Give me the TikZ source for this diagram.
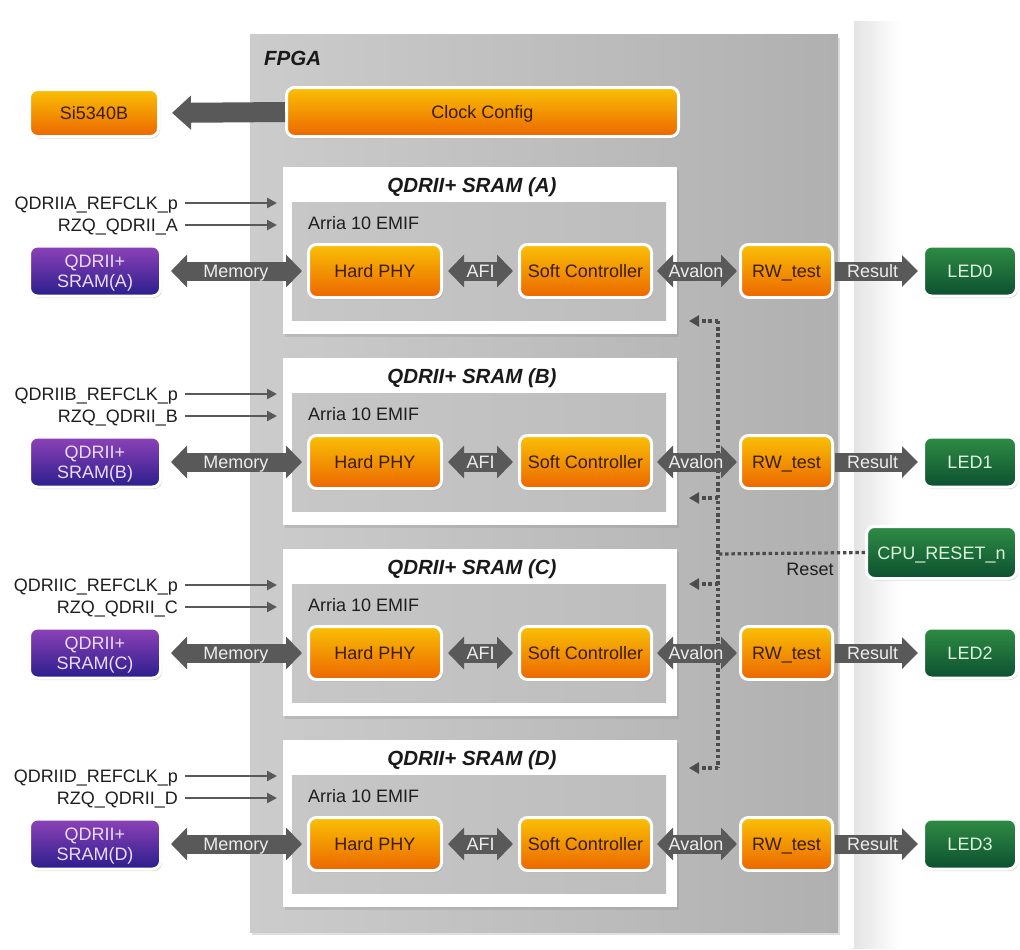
\documentclass[tikz,border=0pt]{standalone}
\usepackage{fontspec}
\setmainfont{Liberation Sans}
\usetikzlibrary{arrows.meta,shadows}
\definecolor{org1}{HTML}{F9C004}
\definecolor{org2}{HTML}{EC6600}
\definecolor{pur1}{HTML}{8E42B8}
\definecolor{pur2}{HTML}{2A1E8C}
\definecolor{grn1}{HTML}{2F8C44}
\definecolor{grn2}{HTML}{0C5030}
\definecolor{arrc}{HTML}{595959}
\definecolor{otext}{HTML}{3A1C08}
\definecolor{ptext}{HTML}{EADCF6}
\definecolor{gtext}{HTML}{DDF3DD}
\definecolor{atext}{HTML}{EDEDED}
\definecolor{ltext}{HTML}{1E1E1E}
\definecolor{dotc}{HTML}{4C4C4C}
\newcommand\fsa{\fontsize{18pt}{20pt}\selectfont}
\newcommand\fsb{\fontsize{20.5pt}{24pt}\selectfont\bfseries\itshape}
\begin{document}
\begin{tikzpicture}[x=1pt,y=-1pt,
  box/.style={rounded corners=8pt, draw=white, line width=3pt, inner sep=0pt, align=center, font=\fsa,
    drop shadow={opacity=0.3, shadow xshift=1.5pt, shadow yshift=-2pt}},
  one/.style={text height=13pt, text depth=0pt},
  obox/.style={box, one, top color=org1, bottom color=org2, text=otext},
  pbox/.style={box, text depth=0pt, top color=pur1, bottom color=pur2, text=ptext},
  gbox/.style={box, one, top color=grn1, bottom color=grn2, text=gtext},
  fatd/.style={draw=arrc, line width=19pt, {Triangle[length=16pt,width=32pt]}-{Triangle[length=16pt,width=32pt]}},
  fats/.style={draw=arrc, line width=19pt, -{Triangle[length=16pt,width=31pt]}},
  alab/.style={text=atext, font=\fsa, inner sep=0pt, one},
  lbl/.style={font=\fsa, text=ltext, inner sep=0pt, one},
  thinarr/.style={draw=arrc, line width=2.4pt, -{Triangle[length=10pt,width=10pt]}},
  dotl/.style={draw=dotc, line width=3.2pt, dash pattern=on 3.4pt off 2.8pt},
  dotarr/.style={dotl, -{Triangle[length=10pt,width=11pt]}},
  ttl/.style={font=\fsb, text=black!90, inner sep=0pt, text height=14.7pt, text depth=0pt}
]
\useasboundingbox (0,0) rectangle (1020,950);
% outer panel and shadow
\shade[left color=black!11, right color=white] (852,22) rectangle (900,948);
\fill[white] (236,13) rectangle (854,948);
% FPGA area
\shade[left color=black!20, middle color=black!14, right color=black!31, drop shadow={opacity=0.25, shadow xshift=2pt, shadow yshift=-3pt}] (250,35) rectangle (838,932);
\node[ttl, anchor=west] (fpga) at (264,58) {FPGA};
% clock
\node[obox, minimum width=129pt, minimum height=47pt] (si) at (94,113) {Si5340B};
\node[obox, minimum width=392pt, minimum height=49pt] (clk) at (482.5,112) {Clock Config};
\draw[draw=arrc, line width=20pt, -{Triangle[length=19pt,width=33pt]}, shorten >=12pt] (clk.west) -- (si.east);
% reset (drawn below the data arrows)
\node[gbox, minimum width=150pt, minimum height=52pt] (cpu) at (941.5,552.5) {CPU\_RESET\_n};
\node[lbl, text=ltext] (resetlbl) at (810,569) {Reset};
\coordinate (rj) at (718,554);
\coordinate (rtop) at (718,321);
\coordinate (rbot) at (718,768);
\coordinate (sA) at (718,321);
\coordinate (sB) at (718,498);
\coordinate (sC) at (718,584);
\coordinate (sD) at (718,768);
\coordinate (tA) at (689,321);
\coordinate (tB) at (689,498);
\coordinate (tC) at (689,584);
\coordinate (tD) at (689,768);
\draw[dotl] (cpu.west) -- (rj);
\draw[dotl] (rtop) -- (rbot);
\draw[dotarr] (sA) -- (tA);
\draw[dotarr] (sB) -- (tB);
\draw[dotarr] (sC) -- (tC);
\draw[dotarr] (sD) -- (tD);
% rows
\foreach \r/\cy/\n in {A/271/0,B/462/1,C/653/2,D/844/3}{
  \pgfmathsetmacro\tp{\cy-104}
  \path[fill=white, drop shadow={opacity=0.22, shadow xshift=2pt, shadow yshift=-3pt}] (283,\tp) rectangle (677,\tp+167);
  \node[ttl] (title\r) at (472,\tp+18) {QDRII+ SRAM (\r)};
  \shade[left color=black!22, middle color=black!15, right color=black!26] (292,\tp+35) rectangle (666,\tp+153);
  \node[lbl, anchor=west] (emif\r) at (308,\tp+56) {Arria 10 EMIF};
  \node[obox, minimum width=133pt, minimum height=53pt] (phy\r) at (375,\cy) {Hard PHY};
  \node[obox, minimum width=132pt, minimum height=53pt] (soft\r) at (585.5,\cy) {Soft Controller};
  \node[obox, minimum width=92pt, minimum height=53pt] (rw\r) at (786.5,\cy) {RW\_test};
  \node[gbox, minimum width=93pt, minimum height=50pt] (led\r) at (970,\cy) {LED\n};
  \node[pbox, minimum width=131pt, minimum height=50pt] (mem\r) at (95,\cy) {QDRII+\\SRAM(\r)};
  \node[lbl, anchor=east] (ref\r) at (178,\cy-68) {QDRII\r\_REFCLK\_p};
  \node[lbl, anchor=east] (rzq\r) at (178,\cy-46) {RZQ\_QDRII\_\r};
  \coordinate (refe\r) at (277,\cy-68);
  \coordinate (rzqe\r) at (277,\cy-46);
  \draw[thinarr, shorten <=7pt] (ref\r.east) -- (refe\r);
  \draw[thinarr, shorten <=7pt] (rzq\r.east) -- (rzqe\r);
  \draw[fatd, shorten <=9pt, shorten >=5pt] (mem\r.east) -- (phy\r.west) node[alab, pos=0.51] {Memory};
  \draw[fatd, shorten <=5pt, shorten >=5pt] (phy\r.east) -- (soft\r.west) node[alab, midway] {AFI};
  \draw[fatd, shorten <=4pt, shorten >=2pt] (soft\r.east) -- (rw\r.west) node[alab, midway] {Avalon};
  \draw[fats, shorten <=1pt, shorten >=4pt] (rw\r.east) -- (led\r.west) node[alab, pos=0.44] {Result};
}
\end{tikzpicture}
\end{document}
